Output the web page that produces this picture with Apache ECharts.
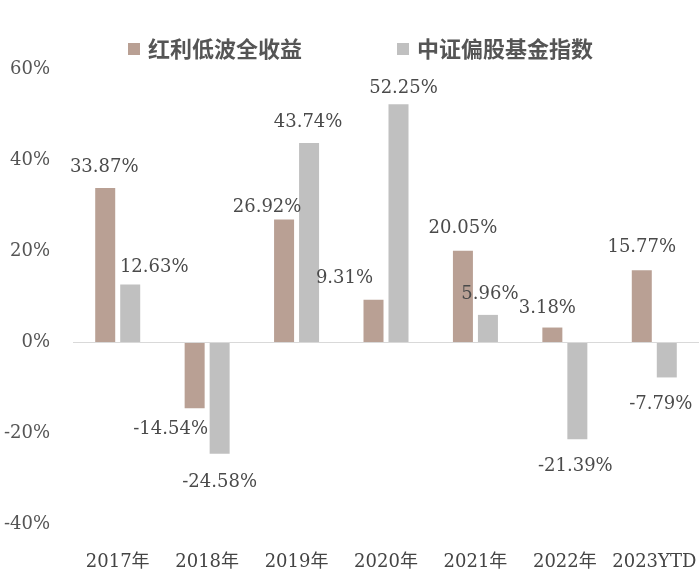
<!DOCTYPE html>
<html>
<head>
<meta charset="utf-8">
<script src="https://cdn.jsdelivr.net/npm/echarts@6/dist/echarts.min.js"></script>
<style>
html,body{margin:0;padding:0;background:#fff;}
#chart{width:700px;height:579px;}
</style>
</head>
<body>
<div id="chart"></div>
<script>
var categories = ['2017年','2018年','2019年','2020年','2021年','2022年','2023YTD'];
var seriesNames = ['红利低波全收益','中证偏股基金指数'];
var dividendValues = [33.87, -14.54, 26.92, 9.31, 20.05, 3.18, 15.77];
var fundValues = [12.63, -24.58, 43.74, 52.25, 5.96, -21.39, -7.79];
var yTicks = [-40, -20, 0, 20, 40, 60];

// label offsets (style only)
var dividendLabelOffsets = [[-1,-12],[-24,12],[-17,-3],[-29,-12],[0,-13],[-5,-10],[0,-14]];
var fundLabelOffsets = [[24,-8],[0,19],[-1,-12],[5,-7],[2,-12],[-2,18],[-6,18]];

var numFont = 'DejaVu Serif, "Noto Sans CJK SC", serif';

function buildData(values, offsets) {
  return values.map(function (v, i) {
    return {
      value: v,
      label: {
        position: v >= 0 ? 'top' : 'bottom',
        offset: offsets[i]
      }
    };
  });
}

var chart = echarts.init(document.getElementById('chart'), null, {renderer: 'canvas'});
var labelStyle = {
  show: true,
  distance: 0,
  fontFamily: numFont,
  fontSize: 18,
  lineHeight: 18,
  color: '#4a4a4a',
  formatter: function (p) { return p.value.toFixed(2) + '%'; }
};

chart.setOption({
  animation: false,
  backgroundColor: '#ffffff',
  legend: {
    data: seriesNames,
    left: 123,
    top: 33,
    itemWidth: 12,
    itemHeight: 12,
    itemGap: 95,
    icon: 'rect',
    textStyle: {
      fontFamily: '"Noto Sans CJK SC", sans-serif',
      fontSize: 22,
      fontWeight: 'bold',
      color: '#555555',
      padding: [0, 0, 0, 3]
    }
  },
  grid: {
    left: 73,
    right: 1,
    top: 69,
    bottom: 55,
    containLabel: false
  },
  xAxis: {
    type: 'category',
    data: categories,
    axisLine: {show: false, onZero: false},
    axisTick: {show: false},
    axisLabel: {
      interval: 0,
      hideOverlap: false,
      margin: 29,
      fontFamily: numFont,
      fontSize: 18,
      color: '#444444'
    },
    splitLine: {show: false}
  },
  yAxis: {
    type: 'value',
    min: yTicks[0],
    max: yTicks[yTicks.length - 1],
    interval: 20,
    axisLine: {show: false},
    axisTick: {show: false},
    splitLine: {show: false},
    axisLabel: {
      margin: 23,
      fontFamily: numFont,
      fontSize: 18,
      color: '#555555',
      formatter: '{value}%'
    }
  },
  series: [
    {
      name: seriesNames[0],
      type: 'bar',
      barWidth: 20,
      barGap: '25%',
      itemStyle: {color: '#b9a094'},
      label: labelStyle,
      data: buildData(dividendValues, dividendLabelOffsets),
      markLine: {
        silent: true,
        symbol: ['none', 'none'],
        label: {show: false},
        lineStyle: {color: '#d9d9d9', width: 1, type: 'solid'},
        data: [{yAxis: 0}]
      }
    },
    {
      name: seriesNames[1],
      type: 'bar',
      barWidth: 20,
      barGap: '25%',
      itemStyle: {color: '#c0c0c0'},
      label: labelStyle,
      data: buildData(fundValues, fundLabelOffsets)
    }
  ]
});
</script>
</body>
</html>
